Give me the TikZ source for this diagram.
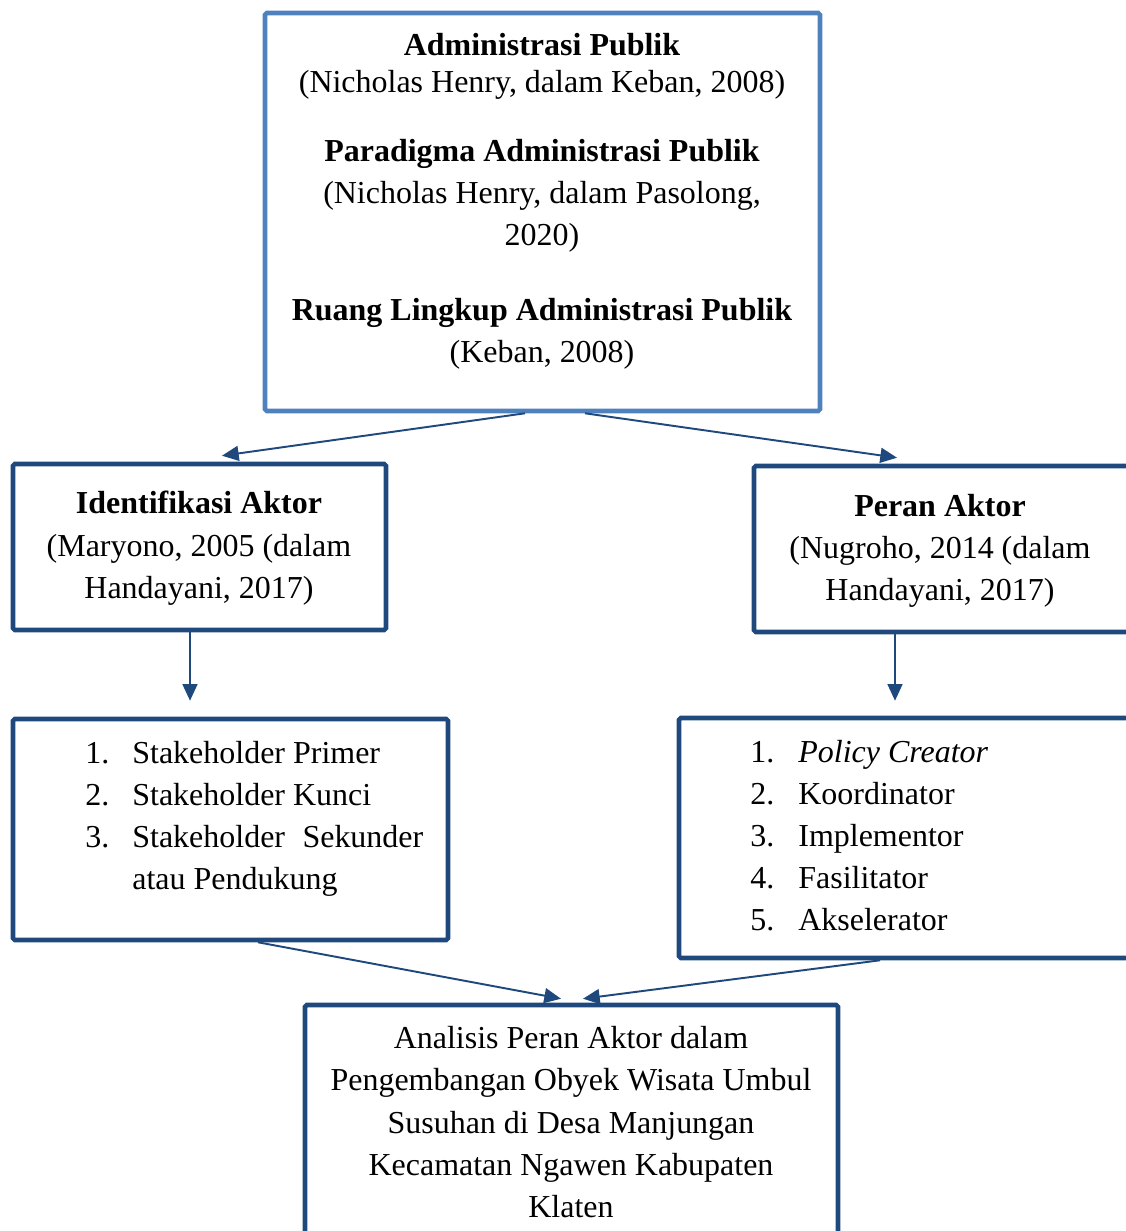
\documentclass[tikz,border=0pt]{standalone}
\usepackage{fontspec}
\setmainfont{Liberation Serif}
\usepackage{xcolor}
\usetikzlibrary{arrows.meta}
\definecolor{birumuda}{RGB}{79,129,189}
\definecolor{birutua}{RGB}{31,73,125}
\newcommand{\satuan}{0.02cm}

\begin{document}
\begin{tikzpicture}[x=0.02cm,y=-0.02cm,
  kotak/.style={draw=birutua,line width=2.6pt,rounded corners=1pt,inner sep=0pt},
  teks/.style={inner sep=0pt,anchor=base,font=\fontsize{18.2}{22}\selectfont},
  judul/.style={teks,font=\fontsize{18.2}{22}\selectfont\bfseries},
  butir/.style={teks,anchor=base west},
  panah/.style={draw=birutua,line width=1.1pt,-{Triangle[length=9.5pt,width=8.5pt]}}
]
\path[use as bounding box,clip] (0,0) rectangle (1126,1231);

% kotak-kotak
\node[kotak,draw=birumuda,minimum width=555*\satuan,minimum height=398*\satuan] (adm) at (542.5,212) {};
\node[kotak,minimum width=373*\satuan,minimum height=166*\satuan] (ident) at (199.5,547) {};
\node[kotak,minimum width=381*\satuan,minimum height=166*\satuan] (peran) at (944.5,549) {};
\node[kotak,minimum width=435*\satuan,minimum height=221*\satuan] (stake) at (230.5,829.5) {};
\node[kotak,minimum width=461*\satuan,minimum height=240*\satuan] (fungsi) at (909.5,838) {};
\node[kotak,minimum width=533*\satuan,minimum height=240*\satuan] (analisis) at (571.5,1125) {};

% teori
\node[judul] (adm1) at (542,55) {Administrasi Publik};
\node[teks] (adm2) at (542,92) {(Nicholas Henry, dalam Keban, 2008)};
\node[judul] (par1) at (542,161) {Paradigma Administrasi Publik};
\node[teks] (par2) at (542,203) {(Nicholas Henry, dalam Pasolong,};
\node[teks] (par3) at (542,245) {2020)};
\node[judul] (rl1) at (542,320) {Ruang Lingkup Administrasi Publik};
\node[teks] (rl2) at (542,362) {(Keban, 2008)};

\node[judul] (id1) at (199,513) {Identifikasi Aktor};
\node[teks] (id2) at (199,556) {(Maryono, 2005 (dalam};
\node[teks] (id3) at (199,598) {Handayani, 2017)};

\node[judul] (pa1) at (940,516) {Peran Aktor};
\node[teks] (pa2) at (940,558) {(Nugroho, 2014 (dalam};
\node[teks] (pa3) at (940,600) {Handayani, 2017)};

% daftar
\foreach \isi [count=\i] in {Stakeholder Primer,Stakeholder Kunci,\hbox to 5.82cm{Stakeholder\hfil Sekunder}}{
  \node[butir] (sn\i) at (85,721+42*\i) {\i.};
  \node[butir] (st\i) at (132,721+42*\i) {\isi};
}
\node[butir] (st4) at (132,889) {atau Pendukung};

\foreach \isi [count=\i] in {\textit{Policy Creator},Koordinator,Implementor,Fasilitator,Akselerator}{
  \node[butir] (fn\i) at (750,720+42*\i) {\i.};
  \node[butir] (ft\i) at (798,720+42*\i) {\isi};
}

\node[teks] (an1) at (571,1048) {Analisis Peran Aktor dalam};
\node[teks] (an2) at (571,1090) {Pengembangan Obyek Wisata Umbul};
\node[teks] (an3) at (571,1133) {Susuhan di Desa Manjungan};
\node[teks] (an4) at (571,1175) {Kecamatan Ngawen Kabupaten};
\node[teks] (an5) at (571,1217) {Klaten};

% panah
\draw[panah] ([xshift=-17.5*\satuan]adm.south) -- ([xshift=22.5*\satuan,yshift=6*\satuan]ident.north);
\draw[panah] ([xshift=42.5*\satuan]adm.south) -- ([xshift=-47.5*\satuan,yshift=6*\satuan]peran.north);
\draw[panah] ([xshift=-9.5*\satuan]ident.south) -- ([xshift=-40.5*\satuan,yshift=16*\satuan]stake.north);
\draw[panah] ([xshift=-49.5*\satuan]peran.south) -- ([xshift=-14.5*\satuan,yshift=15*\satuan]fungsi.north);
\draw[panah] ([xshift=27.5*\satuan]stake.south) -- ([xshift=-10.5*\satuan,yshift=4*\satuan]analisis.north);
\draw[panah] ([xshift=-29.5*\satuan]fungsi.south) -- ([xshift=11.5*\satuan,yshift=4*\satuan]analisis.north);
\end{tikzpicture}
\end{document}
